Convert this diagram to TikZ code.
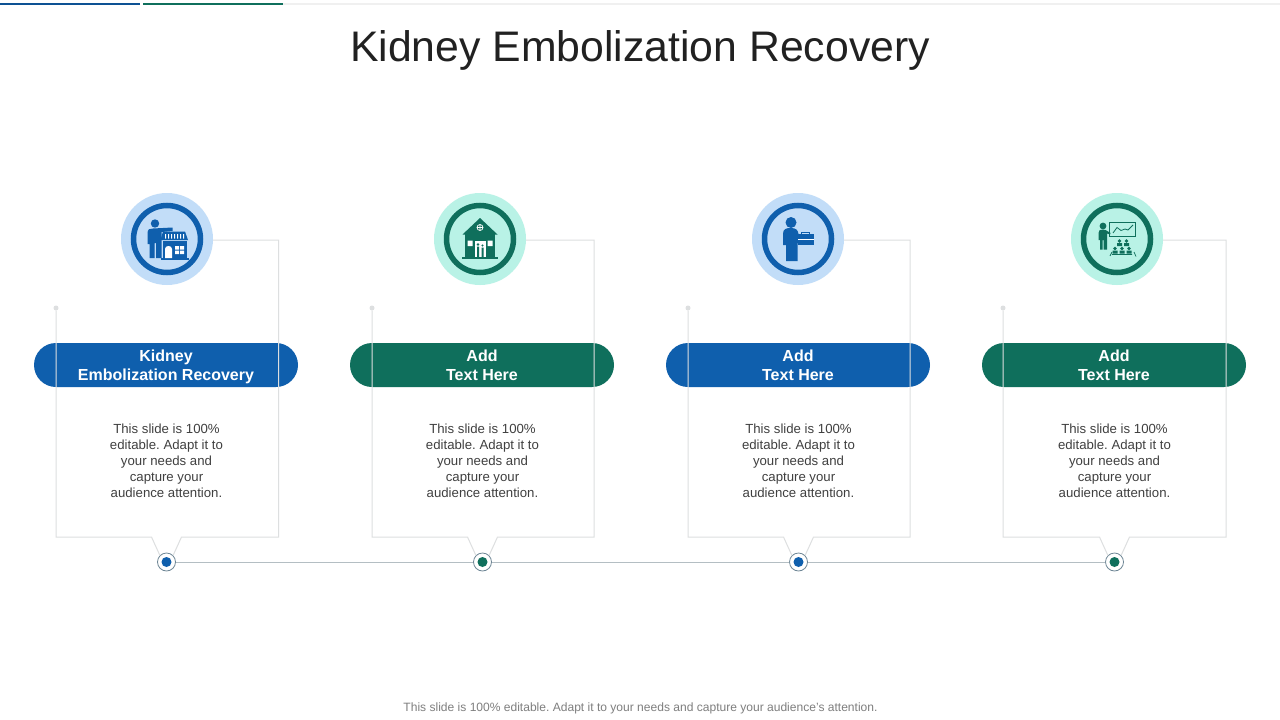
\documentclass[tikz,border=0pt]{standalone}
\usepackage{fontspec}
\usetikzlibrary{shapes.misc}
\setmainfont{Liberation Sans}
\frenchspacing
\definecolor{bluemain}{HTML}{0F5FAD}
\definecolor{bluelight}{HTML}{C2DDF8}
\definecolor{greenmain}{HTML}{0F6F5C}
\definecolor{greenlight}{HTML}{B9F2E6}
\definecolor{frameline}{HTML}{DDDFE0}
\definecolor{railline}{HTML}{B4BEC3}
\definecolor{stopline}{HTML}{6F8796}
\definecolor{bodytext}{HTML}{404040}
\definecolor{foot}{HTML}{7F7F7F}
\tikzset{
  x=1pt,y=-1pt,
  halo/.style={circle,minimum size=92pt,inner sep=0pt},
  ringshape/.style={circle,minimum size=67pt,inner sep=0pt,line width=5.5pt},
  pill/.style={rounded rectangle,minimum width=264pt,minimum height=44pt,inner sep=0pt,text=white,align=center,
     font=\fontsize{16}{19}\selectfont\bfseries},
  bodybox/.style={text=bodytext,align=center,font=\fontsize{13.2}{16}\selectfont,inner sep=0pt},
  framepath/.style={draw=frameline,line width=1pt},
  startdot/.style={circle,fill=frameline,minimum size=5pt,inner sep=0pt},
  stop/.style={circle,draw=stopline,fill=white,line width=.8pt,minimum size=18pt,inner sep=0pt},
  stopcore/.style={circle,minimum size=10pt,inner sep=0pt},
  topbar/.style={line width=2pt},
}
\newcommand{\pilltext}[2]{\rule{0pt}{15.2pt}#1\\#2\rule[-3.4pt]{0pt}{3.4pt}}
\newcommand{\column}[8]{% id, circle x, frame left, frame right, dot x, main, light, text
  \node[pill,fill=#6] (pill#1) at (#5-.5,365) {#8};
  \node[halo,fill=#7] (halo#1) at (#2,239) {};
  \node[ringshape,draw=#6,fill=#7] (ring#1) at (#2,239) {};
  \node[startdot] (start#1) at (#3,308) {};
  \node[stop] (stop#1) at (#5,562) {};
  \node[stopcore,fill=#6] (core#1) at (#5,562) {};
  \coordinate (bl#1) at (#3,537);
  \coordinate (nl#1) at (#5-15,537);
  \coordinate (nr#1) at (#5+15,537);
  \coordinate (br#1) at (#4,537);
  \coordinate (tr#1) at (#4,240);
  \draw[framepath] (start#1) -- (bl#1) -- (nl#1) -- (stop#1.north west);
  \draw[framepath] (stop#1.north east) -- (nr#1) -- (br#1) -- (tr#1) -- (tr#1 -| halo#1.east);
  \node[bodybox] (body#1) at (#5,460.5) {This slide is 100\%\\editable. Adapt it to\\your needs and\\capture your\\audience attention.};
}
\begin{document}
\begin{tikzpicture}
\useasboundingbox (0,0) rectangle (1280,720);
\fill[white] (0,0) rectangle (1280,720);
\coordinate (tb0) at (0,4);\coordinate (tb1) at (140,4);\coordinate (tb2) at (143,4);\coordinate (tb3) at (283,4);\coordinate (tb4) at (1280,4);
\draw[topbar,color=bluemain!85!black] (tb0) -- (tb1);
\draw[topbar,color=greenmain] (tb2) -- (tb3);
\draw[topbar,color=black!6] (tb3) -- (tb4);
\node[inner sep=0pt,text=black!87,font=\fontsize{42.75}{50}\selectfont] (title) at (640,50.5) {Kidney Embolization Recovery};
\node[inner sep=0pt,text=foot,font=\fontsize{12.05}{14}\selectfont] (footer) at (640.5,708) {This slide is 100\% editable. Adapt it to your needs and capture your audience’s attention.};

\column{a}{167}{56}{278.5}{166.5}{bluemain}{bluelight}{\pilltext{Kidney}{Embolization Recovery}}
\column{b}{480}{372}{594}{482.5}{greenmain}{greenlight}{\pilltext{Add}{Text Here}}
\column{c}{798}{688}{910}{798.5}{bluemain}{bluelight}{\pilltext{Add}{Text Here}}
\column{d}{1117}{1003}{1226}{1114.5}{greenmain}{greenlight}{\pilltext{Add}{Text Here}}

\draw[railline,line width=.8pt] (stopa) -- (stopb);
\draw[railline,line width=.8pt] (stopb) -- (stopc);
\draw[railline,line width=.8pt] (stopc) -- (stopd);

% icon 1: person and shop
\fill[bluemain] (155,223.5) circle (4.2);
\fill[bluemain] (147.5,233) .. controls (147.5,229) and (150,228.5) .. (153,228.5) -- (172.5,227.5) -- (172.5,231) -- (161.5,232) -- (161.5,258) -- (156,258) -- (156,243) -- (154.5,243) -- (154.5,258) -- (149.5,258) -- (149.5,244) -- (147.5,244) -- cycle;
\fill[bluemain] (163,231.5) -- (185,231.5) -- (188,240) -- (160.5,240) -- cycle;
\fill[bluemain] (163,241) rectangle (186.5,258);
\fill[bluemain] (161,258) rectangle (189,259.5);
\fill[white] (165,234) rectangle (166,238.5) (168,234) rectangle (169,238.5) (171,234) rectangle (172,238.5) (174,234) rectangle (175,238.5) (177,234) rectangle (178,238.5) (180,234) rectangle (181,238.5) (183,234) rectangle (184,238.5);
\fill[white] (165,258) -- (165,249) .. controls (165,245) and (172,245) .. (172,249) -- (172,258) -- cycle;
\fill[white] (175,246) rectangle (179,249.5) (180,246) rectangle (184,249.5) (175,250.5) rectangle (179,254) (180,250.5) rectangle (184,254);

% icon 2: house
\fill[greenmain] (480,218) -- (497.5,234.5) -- (462.5,234.5) -- cycle;
\fill[greenmain] (465,234) rectangle (495,258);
\fill[greenmain] (462,257) rectangle (498,259);
\draw[white,line width=.7pt] (480,227.5) circle (3) (477,227.5) -- (483,227.5) (480,224.5) -- (480,230.5);
\fill[white] (467.5,240.5) rectangle (472.5,246) (487.5,240.5) rectangle (492.5,246);
\fill[white] (475,241) rectangle (485.5,257);
\fill[greenmain] (478,244.5) circle (1.3) (482.5,245.5) circle (1.2);
\fill[greenmain] (477,246.5) rectangle (479,257) (481.5,247.5) rectangle (483.5,257);

% icon 3: person with case
\fill[bluemain] (791,222.5) circle (5.5);
\fill[bluemain] (783,234) .. controls (783,229) and (786,228) .. (791,228) .. controls (796,228) and (798,230) .. (798.5,234) -- (798.5,243) -- (797.5,243) -- (797.5,261) -- (786,261) -- (786,245) -- (783,245) -- cycle;
\draw[bluemain,line width=.8pt] (801.5,234) -- (801.5,232.5) -- (809,232.5) -- (809,234);
\fill[bluemain] (798,234) rectangle (813.5,244.5);
\fill[white] (798,238.5) rectangle (813.5,239.3);

% icon 4: presenter and audience
\fill[greenmain] (1103,226) circle (3.4);
\fill[greenmain] (1098.5,233) .. controls (1098.5,230) and (1100,229.5) .. (1103,229.5) -- (1105.5,230) -- (1110.5,233) -- (1110,234.5) -- (1107,233.5) -- (1107,249.5) -- (1103.5,249.5) -- (1103.5,240) -- (1102.5,240) -- (1102.5,249.5) -- (1100,249.5) -- (1100,240) -- (1098.5,240) -- cycle;
\draw[greenmain,line width=.8pt] (1109.5,222) rectangle (1135.5,236);
\draw[greenmain,line width=.8pt] (1113,233) -- (1117,227.5) -- (1121,230.5) -- (1125,229) -- (1128,230) -- (1133,225);
\fill[greenmain] (1119.5,241) circle (1.8) (1126.5,241) circle (1.8);
\fill[greenmain] (1117,243) rectangle (1122,246) (1124,243) rectangle (1129,246);
\fill[greenmain] (1115,248.5) circle (1.8) (1122,248.5) circle (1.8) (1129,248.5) circle (1.8);
\fill[greenmain] (1112.5,250.5) rectangle (1117.5,253.5) (1119.5,250.5) rectangle (1124.5,253.5) (1126.5,250.5) rectangle (1131.5,253.5);
\draw[greenmain,line width=.7pt] (1110,256) -- (1112,252) (1112,254.5) -- (1132,254.5) (1134,252) -- (1136,256.5);
\end{tikzpicture}
\end{document}
